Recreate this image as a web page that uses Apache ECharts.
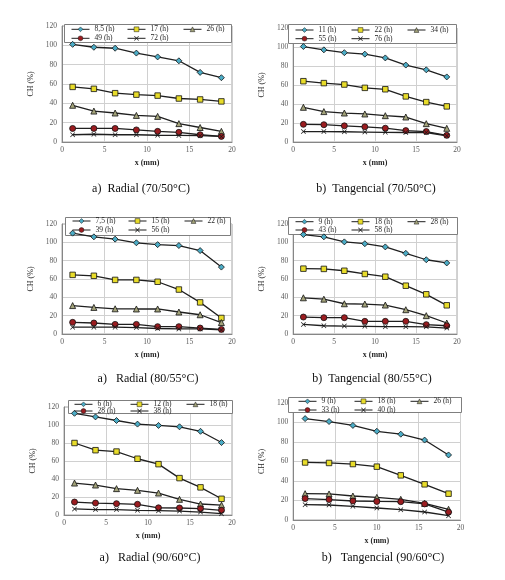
<!DOCTYPE html>
<html>
<head>
<meta charset="utf-8">
<title>CH (%) vs x (mm)</title>
<script src="https://cdn.jsdelivr.net/npm/echarts@6/dist/echarts.min.js"></script>
<style>
  html, body { margin: 0; padding: 0; background: #fff; }
  #wrap { position: relative; width: 505px; height: 580px; overflow: hidden; }
  .panel { position: absolute; }
</style>
</head>
<body>
<div id="wrap"></div>
<script>
// depth positions (mm)
const xDepth8 = [1.25, 3.75, 6.25, 8.75, 11.25, 13.75, 16.25, 18.75];
const xDepth7 = [1.43, 4.29, 7.14, 10, 12.86, 15.71, 18.57];
const xTicks = [0, 5, 10, 15, 20];
const yTicks = [0, 20, 40, 60, 80, 100, 120];

// a) Radial (70/50°C)
const r70Names = ['8,5 (h)', '17 (h)', '26 (h)', '49 (h)', '72 (h)'];
const r70_h8 = [101, 98, 97, 92, 88, 84, 72, 66.5];
const r70_h17 = [57, 55, 50.5, 49, 48, 45, 44, 42];
const r70_h26 = [38, 32, 30, 27.5, 26.5, 19, 15, 11];
const r70_h49 = [14, 14, 14, 12.5, 11, 10, 7.5, 5.8];
const r70_h72 = [7.5, 8, 7.5, 7.5, 7, 6.8, 6.5, 5.8];

// b) Tangencial (70/50°C)
const t70Names = ['11 (h)', '22 (h)', '34 (h)', '55 (h)', '76 (h)'];
const t70_h11 = [100.5, 97, 94, 92.5, 88.5, 81, 76, 68.5];
const t70_h22 = [64, 62, 60.5, 57, 55.5, 48, 42, 37.5];
const t70_h34 = [36.5, 32, 30.5, 29.5, 27.7, 26.3, 19.3, 14.4];
const t70_h55 = [18.6, 18.2, 17, 16, 14.5, 12, 11, 7];
const t70_h76 = [11, 11, 10.8, 10.5, 10.2, 10, 10, 6.5];

// a) Radial (80/55°C)
const r80Names = ['7,5 (h)', '15 (h)', '22 (h)', '39 (h)', '56 (h)'];
const r80_h7 = [110, 106, 103.5, 99.5, 97.5, 96.5, 91, 73];
const r80_h15 = [64.5, 63.5, 59, 59, 57, 48.5, 34.5, 17.5];
const r80_h22 = [31, 29, 27.5, 27.3, 27.3, 24, 21, 12.5];
const r80_h39 = [12.7, 12, 10.5, 10.5, 8, 8, 6.5, 5];
const r80_h56 = [7.5, 7.5, 7.5, 7, 6, 5.5, 5.5, 4.5];

// b) Tangencial (80/55°C)
const t80Names = ['9 (h)', '18 (h)', '28 (h)', '43 (h)', '58 (h)'];
const t80_h9 = [108.5, 106, 100.5, 98.5, 95, 88, 81, 77.5];
const t80_h18 = [71.3, 71, 69, 65.5, 62.5, 52.7, 43.3, 31.3];
const t80_h28 = [39.5, 38, 33, 32.7, 31.6, 26.5, 20, 12];
const t80_h43 = [18.5, 17.8, 17.8, 13.8, 13.8, 13.8, 10.2, 9];
const t80_h58 = [10.5, 9, 8.7, 8.4, 8, 8, 7.8, 6.5];

// a) Radial (90/60°C)
const r90Names = ['6 (h)', '12 (h)', '18 (h)', '28 (h)', '38 (h)'];
const r90_h6 = [113, 109, 105, 101, 99.5, 98, 93, 80.5];
const r90_h12 = [80, 72, 70.5, 62.5, 56.5, 41, 30.7, 18];
const r90_h18 = [35.5, 33.3, 29.3, 27.4, 24.4, 17.4, 12.2, 11];
const r90_h28 = [14.4, 13.3, 12.6, 11.9, 8, 7.8, 7, 5.2];
const r90_h38 = [6.7, 6, 6, 5.2, 4.8, 4.4, 3.3, 1.5];

// b) Tangencial (90/60°C)
const t90Names = ['9 (h)', '18 (h)', '26 (h)', '33 (h)', '40 (h)'];
const t90_h9 = [104, 101, 97, 91, 88, 82, 66.7];
const t90_h18 = [59, 58.5, 57.4, 54.7, 45.8, 36.6, 27];
const t90_h26 = [27, 26.7, 24.6, 23.2, 21.2, 17, 11];
const t90_h33 = [22, 21, 19.5, 19, 18.8, 16.5, 8];
const t90_h40 = [15.7, 15.4, 14, 12.3, 10.6, 8.2, 4.4];

const FONT = 'Liberation Serif, Times New Roman, serif';
const xMark = 'path://M0,1 L1,0 L5,4 L9,0 L10,1 L6,5 L10,9 L9,10 L5,6 L1,10 L0,9 L4,5 Z';

// marker look per series slot (same in every panel)
const markers = [
  { symbol: 'diamond', size: 6, fill: '#4bacc6' },
  { symbol: 'rect', size: 5.5, fill: '#e8dc2a' },
  { symbol: 'triangle', size: 6, fill: '#a3a37a' },
  { symbol: 'circle', size: 6, fill: '#9b1c20' },
  { symbol: xMark, size: 5, fill: '#1a1a1a' }
];

// panel placement: div box, grid, legend box, captions
// divs are a bit taller than their slot so the captions are not clipped
const panels = [
  { div: [0, 0, 250, 200], grid: [62, 26, 170, 116], box: [64, 24, 167, 18], rows: [28.3, 37.3], pad: 7,
    caption: 'a)  Radial (70/50°C)', cap: [141, 189], xs: xDepth8, names: r70Names,
    data: [r70_h8, r70_h17, r70_h26, r70_h49, r70_h72] },
  { div: [250, 0, 255, 200], grid: [38, 28, 169, 114], box: [38, 24, 168, 18.5], rows: [29, 37.7], pad: 7,
    caption: 'b)  Tangencial (70/50°C)', cap: [126, 189], xs: xDepth8, names: t70Names,
    data: [t70_h11, t70_h22, t70_h34, t70_h55, t70_h76] },
  { div: [0, 190, 250, 200], grid: [62, 34, 170, 110], box: [65, 26.5, 165, 17.5], rows: [30, 39], pad: 7,
    caption: 'a)   Radial (80/55°C)', cap: [148, 189], xs: xDepth8, names: r80Names,
    data: [r80_h7, r80_h15, r80_h22, r80_h39, r80_h56] },
  { div: [250, 190, 255, 200], grid: [38, 34, 169, 110], box: [38, 26.5, 169, 16.5], rows: [30.7, 39], pad: 7,
    caption: 'b)  Tangencial (80/55°C)', cap: [122, 189], xs: xDepth8, names: t80Names,
    data: [t80_h9, t80_h18, t80_h28, t80_h43, t80_h58] },
  { div: [0, 385, 250, 195], grid: [64, 22, 168, 108], box: [68, 15, 164, 13], rows: [18.3, 25], pad: 6,
    caption: 'a)   Radial (90/60°C)', cap: [150, 173], xs: xDepth8, names: r90Names,
    data: [r90_h6, r90_h12, r90_h18, r90_h28, r90_h38] },
  { div: [250, 385, 255, 195], grid: [38, 18, 172.5, 117], box: [38, 12, 173, 15], rows: [15.3, 24], pad: 10,
    caption: 'b)   Tangencial (90/60°C)', cap: [133, 173], xs: xDepth7, names: t90Names,
    data: [t90_h9, t90_h18, t90_h26, t90_h33, t90_h40] }
];

function buildOption(p) {
  const [gl, gt, gw, gh] = p.grid;
  const [bx, by, bw, bh] = p.box;

  const series = p.data.map((vals, i) => ({
    name: p.names[i],
    type: 'line',
    data: vals.map((v, k) => [p.xs[k], v]),
    symbol: markers[i].symbol,
    symbolSize: markers[i].size,
    showAllSymbol: true,
    lineStyle: { color: '#1f1f1f', width: 1.3 },
    itemStyle: {
      color: markers[i].fill,
      borderColor: i === 4 ? markers[i].fill : '#111',
      borderWidth: i === 4 ? 0 : 0.8
    },
    emphasis: { disabled: true }
  }));

  // one legend per entry so the 3 + 2 grid lines up like the original
  const legends = p.names.map((n, i) => ({
    data: [n],
    left: bx + p.pad + (i % 3) * 56,
    top: p.rows[i < 3 ? 0 : 1] - 3,
    padding: 0,
    itemWidth: 18,
    itemHeight: 6,
    itemGap: 0,
    lineStyle: { width: 1 },
    itemStyle: { borderWidth: i === 4 ? 0 : 0.5 },
    textStyle: { fontFamily: FONT, fontSize: 7.5, color: '#262626' }
  }));

  return {
    animation: false,
    textStyle: { fontFamily: FONT },
    grid: {
      left: gl, top: gt, width: gw, height: gh,
      show: true, borderColor: '#a6a6a6', borderWidth: 1
    },
    legend: legends,
    xAxis: {
      type: 'value', min: xTicks[0], max: xTicks[xTicks.length - 1], interval: 5,
      name: 'x (mm)', nameLocation: 'middle', nameGap: 17,
      nameTextStyle: { fontFamily: FONT, fontSize: 8, fontWeight: 'bold', color: '#262626' },
      axisLine: { show: true, lineStyle: { color: '#868686' } },
      axisTick: { show: false },
      axisLabel: { fontFamily: FONT, fontSize: 7.5, color: '#595959', margin: 4 },
      splitLine: { show: true, lineStyle: { color: '#d0d0d0' } }
    },
    yAxis: {
      type: 'value', min: yTicks[0], max: yTicks[yTicks.length - 1], interval: 20,
      name: 'CH (%)', nameLocation: 'middle', nameGap: 21,
      nameTextStyle: { fontFamily: FONT, fontSize: 8, color: '#262626' },
      axisLine: { show: true, lineStyle: { color: '#868686' } },
      axisTick: { show: false },
      axisLabel: { fontFamily: FONT, fontSize: 7.5, color: '#595959', margin: 5 },
      splitLine: { show: true, lineStyle: { color: '#d0d0d0' } }
    },
    graphic: [
      {
        type: 'rect', z: 3, silent: true,
        shape: { x: Math.round(bx) + 0.5, y: Math.round(by) + 0.5, width: Math.round(bw), height: Math.round(bh) },
        style: { fill: '#fff', stroke: '#7f7f7f', lineWidth: 1 }
      },
      {
        type: 'text', z: 5, silent: true,
        x: p.cap[0], y: p.cap[1],
        style: {
          text: p.caption, fill: '#111',
          font: '12px ' + FONT,
          align: 'center', verticalAlign: 'middle'
        }
      }
    ],
    series: series
  };
}

const wrap = document.getElementById('wrap');
panels.forEach(p => {
  const d = document.createElement('div');
  d.className = 'panel';
  d.style.left = p.div[0] + 'px';
  d.style.top = p.div[1] + 'px';
  d.style.width = p.div[2] + 'px';
  d.style.height = p.div[3] + 'px';
  wrap.appendChild(d);
  const chart = echarts.init(d);
  chart.setOption(buildOption(p));
});
</script>
</body>
</html>
